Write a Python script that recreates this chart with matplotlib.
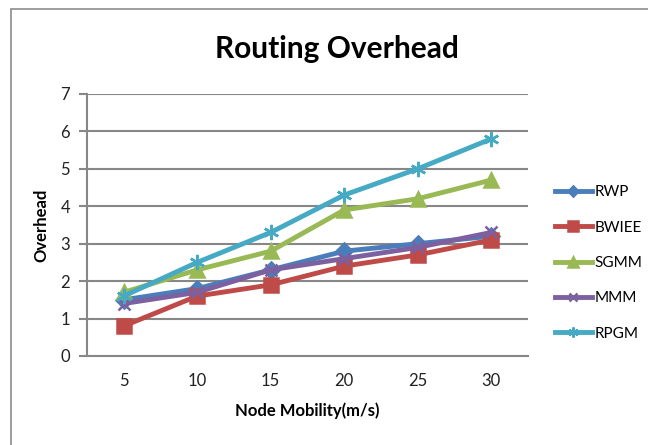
# Routing overhead line chart, redrawn in matplotlib.
import matplotlib.pyplot as plt
from matplotlib.patches import Rectangle

# Data.
speeds = ["5", "10", "15", "20", "25", "30"]
rwp = [1.5, 1.8, 2.3, 2.8, 3.0, 3.2]
bwiee = [0.8, 1.6, 1.9, 2.4, 2.7, 3.1]
sgmm = [1.7, 2.3, 2.8, 3.9, 4.2, 4.7]
mmm = [1.4, 1.7, 2.3, 2.6, 2.9, 3.3]
rpgm = [1.6, 2.5, 3.3, 4.3, 5.0, 5.8]
y_ticks = [0, 1, 2, 3, 4, 5, 6, 7]

plt.rcParams['font.family'] = ['Lato', 'DejaVu Sans']

fig = plt.figure(figsize=(6.48, 4.45), dpi=100)
ax = fig.add_axes([0.134, 0.2, 0.681, 0.589])

# Outer chart border, cut off at right and bottom like the screenshot.
fig.patches.append(Rectangle((11 / 648, -0.05), 1.1, 1 - 9 / 445 + 0.05,
                             transform=fig.transFigure, fill=False,
                             edgecolor='#8c8c8c', lw=1.2))

x = list(range(len(speeds)))
series = [
    ("RWP", rwp, '#4a7ebb', 'D', 8),
    ("BWIEE", bwiee, '#be4b48', 's', 10),
    ("SGMM", sgmm, '#98b954', '^', 10),
    ("MMM", mmm, '#7d60a0', 'x', 9),
    ("RPGM", rpgm, '#46aac5', (6, 2, 0), 11),
]
for name, vals, col, mk, ms in series:
    ax.plot(x, vals, color=col, lw=3.5, marker=mk, markersize=ms,
            markeredgewidth=1.8, markeredgecolor=col, label=name)

ax.set_xlim(-0.5, 5.5)
ax.set_ylim(0, 7)
ax.set_yticks(y_ticks)
ax.set_xticks(x)
ax.set_xticklabels(speeds)
ax.yaxis.grid(True, color='#878787', lw=1.5)
ax.set_axisbelow(True)
for s in ['top', 'right']:
    ax.spines[s].set_visible(False)
for s in ['left', 'bottom']:
    ax.spines[s].set_color('#878787')
    ax.spines[s].set_linewidth(1.5)
ax.tick_params(axis='y', length=6, width=1.5, color='#878787',
               labelsize=12, labelcolor='#222222', pad=6)
ax.tick_params(axis='x', length=0, labelsize=12, labelcolor='#222222', pad=12)

ax.set_xlabel("Node Mobility(m/s)", fontsize=12, fontweight='bold', labelpad=10)
ax.set_ylabel("Overhead", fontsize=12, fontweight='bold', labelpad=8)
fig.text(0.52, 0.89, "Routing Overhead", ha='center', va='center',
         fontsize=21.5, fontweight='bold')

ax.legend(loc='center left', bbox_to_anchor=(1.03, 0.355), frameon=False,
          fontsize=11, handlelength=2.4, labelspacing=1.4, handletextpad=0.2,
          markerscale=0.65)

plt.savefig('out.png', dpi=100)
